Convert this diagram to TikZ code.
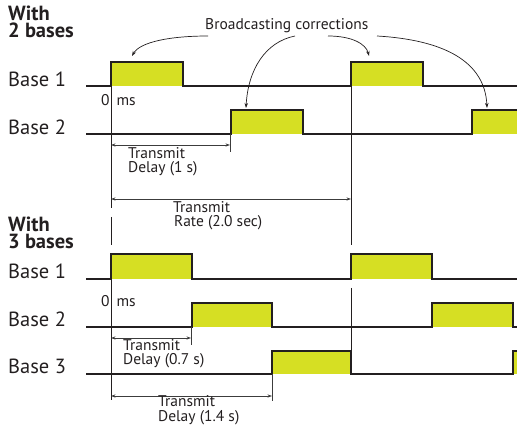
\documentclass[tikz,border=0pt]{standalone}
\usepackage{fontspec}
\setmainfont{PT Sans}
\usetikzlibrary{arrows.meta,calc}
\definecolor{sig}{RGB}{35,31,32}
\definecolor{pulse}{RGB}{214,223,35}
\definecolor{dim}{RGB}{60,60,60}
\tikzset{
  sigline/.style={line width=2.6pt,color=sig,line join=miter,line cap=butt},
  pulsefill/.style={fill=pulse,draw=none},
  refline/.style={line width=0.8pt,color=sig},
  dimline/.style={line width=0.8pt,color=dim,{Stealth[length=4.5pt,width=3.2pt]}-{Stealth[length=4.5pt,width=3.2pt]}},
  tickline/.style={line width=0.8pt,color=dim},
  callout/.style={line width=0.7pt,color=sig,-{Stealth[length=5pt,width=3.5pt]}},
  heading/.style={anchor=base west,align=left,font=\fontsize{20.5}{17}\selectfont\bfseries,inner sep=0pt,text=sig},
  baselabel/.style={anchor=base west,font=\fontsize{20.5}{20.5}\selectfont,inner sep=0pt,text=sig},
  small/.style={anchor=base west,font=\fontsize{15.5}{15.5}\selectfont,inner sep=0pt,text=sig,text height=10.5pt,text depth=3pt},
}
\begin{document}
\begin{tikzpicture}[x=1pt,y=-1pt]
\useasboundingbox (0,0) rectangle (517,427);
% ---------- headings (base = last line) ----------
\node[heading] (w2) at (8,38) {With\\2 bases};
\node[heading] (w3) at (8,249) {With\\3 bases};
\node[baselabel] (l21) at (8,87) {Base 1};
\node[baselabel] (l22) at (8,135) {Base 2};
\node[baselabel] (l31) at (8,279) {Base 1};
\node[baselabel] (l32) at (8,327) {Base 2};
\node[baselabel] (l33) at (8,374) {Base 3};
% ---------- reference verticals ----------
\draw[refline] (111,86) -- (111,208);
\draw[refline] (111,217) -- (111,245);
\draw[refline] (111,279) -- (111,400);
\draw[refline] (351,86) -- (351,245);
\draw[refline] (351,288) -- (351,351);
% ---------- pulses fill ----------
\fill[pulsefill] (111,62) rectangle (183,86);
\fill[pulsefill] (351,62) rectangle (423,86);
\fill[pulsefill] (231,110) rectangle (303,134);
\fill[pulsefill] (472,110) rectangle (517,134);
\fill[pulsefill] (111,254) rectangle (192,279);
\fill[pulsefill] (351,254) rectangle (432,279);
\fill[pulsefill] (192,303) rectangle (272,327);
\fill[pulsefill] (432,303) rectangle (513,327);
\fill[pulsefill] (272,351) rectangle (351,374);
\fill[pulsefill] (513,351) rectangle (517,374);
% ---------- signal lines ----------
\draw[sigline] (86,86) -- (111,86) -- (111,62) -- (183,62) -- (183,86) -- (351,86) -- (351,62) -- (423,62) -- (423,86) -- (518,86);
\draw[sigline] (86,134) -- (231,134) -- (231,110) -- (303,110) -- (303,134) -- (472,134) -- (472,110) -- (518,110);
\draw[sigline] (86,279) -- (111,279) -- (111,254) -- (192,254) -- (192,279) -- (351,279) -- (351,254) -- (432,254) -- (432,279) -- (518,279);
\draw[sigline] (86,327) -- (192,327) -- (192,303) -- (272,303) -- (272,327) -- (432,327) -- (432,303) -- (513,303) -- (513,327) -- (518,327);
\draw[sigline] (86,374) -- (272,374) -- (272,351) -- (351,351) -- (351,374) -- (513,374) -- (513,351) -- (518,351);
% ---------- 0 ms ----------
\node[small] (z2) at (101,106) {0\hspace{0.45em}ms};
\node[small] (z3) at (101,307) {0\hspace{0.45em}ms};
% ---------- dimensions ----------
\coordinate (d1a) at (111,145); \coordinate (d1b) at (230,145);
\draw[tickline] (230,134) -- (230,152);
\draw[dimline] (d1a) -- (d1b);
\node[small] (t1a) at (128,159) {Transmit};
\node[small] (t1b) at (128,173) {Delay (1 s)};
\coordinate (d2a) at (111,199); \coordinate (d2b) at (351,199);
\draw[dimline] (d2a) -- (d2b);
\node[small] (t2a) at (173,213) {Transmit};
\node[small] (t2b) at (174,227) {Rate (2.0 sec)};
\coordinate (d3a) at (111,338); \coordinate (d3b) at (191,338);
\draw[tickline] (191,327) -- (191,345);
\draw[dimline] (d3a) -- (d3b);
\node[small] (t3a) at (123,351) {Transmit};
\node[small] (t3b) at (123,365) {Delay (0.7 s)};
\coordinate (d4a) at (111,396); \coordinate (d4b) at (272,396);
\draw[tickline] (272,374) -- (272,401);
\draw[dimline] (d4a) -- (d4b);
\node[small] (t4a) at (158,407) {Transmit};
\node[small] (t4b) at (158,422) {Delay (1.4 s)};
% ---------- broadcasting corrections ----------
\node[small] (bc) at (205,30) {Broadcasting corrections};
\coordinate (s1) at (208,36); \coordinate (e1) at (132,56);
\coordinate (s2) at (295,36); \coordinate (e2) at (246,108);
\coordinate (s3) at (328,36); \coordinate (e3) at (369,56);
\coordinate (s4) at (377,36); \coordinate (e4) at (487,108);
\draw[callout] (s1) .. controls (170,36) and (140,42) .. (e1);
\draw[callout] (s2) .. controls (265,42) and (248,70) .. (e2);
\draw[callout] (s3) .. controls (352,36) and (366,44) .. (e3);
\draw[callout] (s4) .. controls (445,40) and (485,62) .. (e4);
\end{tikzpicture}
\end{document}
